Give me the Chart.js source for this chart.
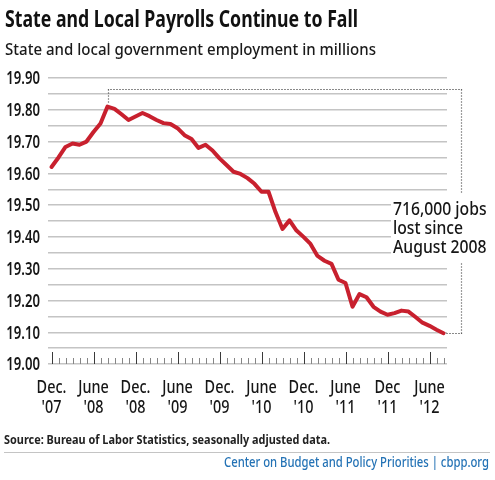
<!DOCTYPE html>
<html>
<head>
<meta charset="utf-8">
<script src="https://cdn.jsdelivr.net/npm/chart.js@4.4.1/dist/chart.umd.min.js"></script>
<style>
  body { margin: 0; background: #fff; }
  #wrap { position: relative; width: 495px; height: 480px; overflow: hidden; }
  #chart { position: absolute; left: 0; top: 0; }
  .txt { position: absolute; white-space: nowrap; line-height: 1; font-family: 'Noto Sans', sans-serif; transform-origin: 0 0; }
  #title { left: 5px; top: 6.5px; font-size: 23px; font-weight: bold; color: #111; }
  #subtitle { left: 5px; top: 40px; font-size: 17px; font-weight: 500; color: #1a1a1a; }
  #source { left: 4px; top: 434px; font-size: 11.5px; font-weight: bold; color: #222; }
  #rule { position: absolute; left: 4px; top: 452px; width: 486px; height: 1px; background: #c4c4c4; }
  #credit { left: 224px; top: 456px; font-size: 13.5px; font-weight: 500; color: #2372b5; }
</style>
</head>
<body>
<div id="wrap">
  <canvas id="chart" width="495" height="480"></canvas>
  <div id="title" class="txt" data-w="353">State and Local Payrolls Continue to Fall</div>
  <div id="subtitle" class="txt" data-w="371">State and local government employment in millions</div>
  <div id="source" class="txt" data-w="326">Source: Bureau of Labor Statistics, seasonally adjusted data.</div>
  <div id="rule"></div>
  <div id="credit" class="txt" data-w="265">Center on Budget and Policy Priorities | cbpp.org</div>
</div>
<script>
const FONT = "'Noto Sans', sans-serif";
const SQUEEZE = 0.75; // the original uses a condensed face

// monthly, Dec 2007 .. Aug 2012 (millions)
const employment = [
  19.620, 19.650, 19.683, 19.694, 19.690, 19.700, 19.730, 19.757, 19.810, 19.803,
  19.786, 19.768, 19.779, 19.790, 19.780, 19.768, 19.758, 19.755, 19.742, 19.720,
  19.708, 19.680, 19.690, 19.672, 19.647, 19.626, 19.605, 19.598, 19.585, 19.567,
  19.542, 19.542, 19.478, 19.425, 19.452, 19.420, 19.400, 19.378, 19.340, 19.325,
  19.315, 19.265, 19.255, 19.180, 19.220, 19.210, 19.180, 19.165, 19.155, 19.160,
  19.168, 19.165, 19.148, 19.130, 19.120, 19.108, 19.097
];

// major ticks every six months (index into employment)
const xTickIndex = [0, 6, 12, 18, 24, 30, 36, 42, 48, 54];
const xTickLabels = [
  ['Dec.', "'07"], ['June', "'08"], ['Dec.', "'08"], ['June', "'09"], ['Dec.', "'09"],
  ['June', "'10"], ['Dec.', "'10"], ['June', "'11"], ['Dec', "'11"], ['June', "'12"]
];

const yGrid = [19.00, 19.05, 19.10, 19.15, 19.20, 19.25, 19.30, 19.35, 19.40, 19.45,
               19.50, 19.55, 19.60, 19.65, 19.70, 19.75, 19.80, 19.85, 19.90];
const yTickLabels = ['19.00', '', '19.10', '', '19.20', '', '19.30', '', '19.40', '',
                     '19.50', '', '19.60', '', '19.70', '', '19.80', '', '19.90'];

const annotationLines = ['716,000 jobs', 'lost since', 'August 2008'];
const peakIndex = 8;

const points = employment.map((v, i) => ({ x: i, y: v }));

function squeezed(ctx, text, x, y, align, k = SQUEEZE) {
  ctx.save();
  ctx.translate(x, y);
  ctx.scale(k, 1);
  ctx.textAlign = align;
  ctx.fillText(text, 0, 0);
  ctx.restore();
}

const axisText = {
  id: 'axisText',
  afterDraw(chart) {
    const { ctx, scales: { x, y } } = chart;
    ctx.save();
    ctx.fillStyle = '#161616';
    ctx.textBaseline = 'alphabetic';
    ctx.font = '600 17.5px ' + FONT;
    y.ticks.forEach((t, i) => {
      if (yTickLabels[i]) squeezed(ctx, yTickLabels[i], 40, y.getPixelForValue(t.value) + 6.3, 'right');
    });
    ctx.font = '500 18px ' + FONT;
    xTickIndex.forEach((v, i) => {
      const px = x.getPixelForValue(v);
      squeezed(ctx, xTickLabels[i][0], px, 392.5, 'center', 0.8);
      squeezed(ctx, xTickLabels[i][1], px, 412.5, 'center', 0.8);
    });
    ctx.restore();
  }
};

const monthTicks = {
  id: 'monthTicks',
  afterDatasetsDraw(chart) {
    const { ctx, scales: { x, y } } = chart;
    const base = y.getPixelForValue(19.0);
    ctx.save();
    ctx.lineWidth = 1;
    employment.forEach((v, i) => {
      const px = Math.round(x.getPixelForValue(i)) + 0.5;
      const major = xTickIndex.includes(i);
      ctx.strokeStyle = major ? '#3a3a3a' : '#858585';
      ctx.beginPath();
      ctx.moveTo(px, base);
      ctx.lineTo(px, base - (major ? 12 : 6));
      ctx.stroke();
    });
    ctx.restore();
  }
};

const bracket = {
  id: 'bracket',
  afterDatasetsDraw(chart) {
    const { ctx, scales: { x, y } } = chart;
    const last = employment.length - 1;
    const x0 = Math.round(x.getPixelForValue(peakIndex)) + 0.5;
    const y0 = y.getPixelForValue(employment[peakIndex]) - 4;
    const yTop = Math.round(y.getPixelForValue(19.865)) + 0.5;
    const xRight = Math.round(x.getPixelForValue(last + 2.5)) + 0.5;
    const yEnd = Math.round(y.getPixelForValue(employment[last])) + 0.5;
    const xEnd = x.getPixelForValue(last) + 3;

    ctx.save();
    ctx.strokeStyle = '#3c3c3c';
    ctx.lineWidth = 1.2;
    ctx.setLineDash([1.2, 1.8]);
    ctx.beginPath();
    ctx.moveTo(x0, y0);
    ctx.lineTo(x0, yTop);
    ctx.lineTo(xRight, yTop);
    ctx.lineTo(xRight, yEnd);
    ctx.lineTo(xEnd, yEnd);
    ctx.stroke();
    ctx.setLineDash([]);

    // white box behind the note
    const tx = 393;
    ctx.fillStyle = '#fff';
    ctx.fillRect(tx - 2, 193, 495 - tx, 70);

    ctx.fillStyle = '#161616';
    ctx.font = '500 18.5px ' + FONT;
    ctx.textBaseline = 'alphabetic';
    annotationLines.forEach((s, k) => squeezed(ctx, s, tx, 215 + k * 19, 'left', 0.85));
    ctx.restore();
  }
};

new Chart(document.getElementById('chart'), {
  type: 'line',
  data: {
    datasets: [{
      data: points,
      borderColor: '#c8202e',
      borderWidth: 4,
      pointRadius: 0,
      tension: 0,
      borderJoinStyle: 'round',
      borderCapStyle: 'round'
    }]
  },
  options: {
    responsive: false,
    animation: false,
    layout: { padding: { top: 78, right: 48, left: 0, bottom: 0 } },
    plugins: { legend: { display: false }, tooltip: { enabled: false } },
    scales: {
      x: {
        type: 'linear',
        min: -0.5,
        max: employment.length - 0.5,
        grid: { display: false },
        border: { display: false },
        ticks: { display: false },
        afterFit: s => { s.height = 116; }
      },
      y: {
        min: 19.0,
        max: 19.9,
        afterBuildTicks: s => { s.ticks = yGrid.map(v => ({ value: v })); },
        afterFit: s => { s.width = 48; },
        grid: { color: '#c4c4c4', lineWidth: 1.4, drawTicks: false },
        border: { display: false },
        ticks: { display: false }
      }
    }
  },
  plugins: [monthTicks, bracket, axisText]
});

document.querySelectorAll('.txt[data-w]').forEach(el => {
  const w = el.getBoundingClientRect().width;
  el.style.transform = 'scaleX(' + (Number(el.dataset.w) / w) + ')';
});
</script>
</body>
</html>
